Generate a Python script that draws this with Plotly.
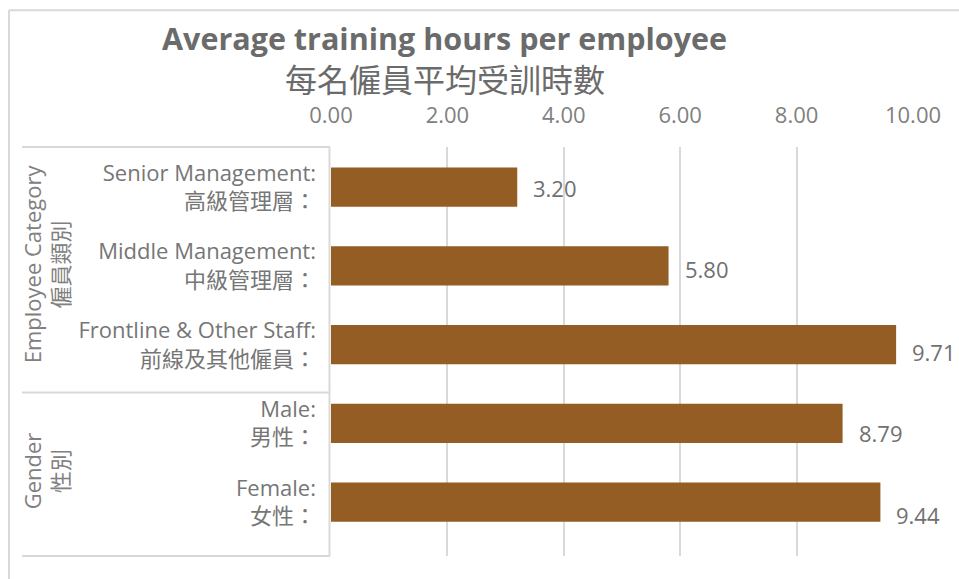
import plotly.graph_objects as go

categories = [
    "Senior Management:<br>高級管理層：",
    "Middle Management:<br>中級管理層：",
    "Frontline & Other Staff:<br>前線及其他僱員：",
    "Male:<br>男性：",
    "Female:<br>女性：",
]
values = [3.20, 5.80, 9.71, 8.79, 9.44]
groups = ["Employee Category<br>僱員類別", "Gender<br>性別"]
tick_vals = [0, 2, 4, 6, 8, 10]
title_en = "Average training hours per employee"
title_zh = "每名僱員平均受訓時數"

# style-only: small vertical drift of value labels as in the reference
label_yshift = [-1, -3, -7, -10, -13]

FONT = "Open Sans, Noto Sans CJK TC, sans-serif"
BAR = "#935D23"
GRID = "#D9D9D9"

W, H = 959, 579
L, R = 331, 46
T, B = 146.7, H - 555.7
pw = W - L - R
ph = H - T - B

def px(x):
    return (x - L) / pw

def py(y):
    return 1 + (T - y) / ph

# category axis layout (pixels of first category centre and pitch)
C0, PITCH = 186.8, 78.75
y_range = [(H - B - C0) / PITCH, (T - C0) / PITCH]

fig = go.Figure()
fig.add_trace(go.Bar(
    x=values, y=categories, orientation="h",
    marker=dict(color=BAR, line=dict(width=0)),
    width=0.5, hoverinfo="skip",
))

annotations = []
for v, c, ys in zip(values, categories, label_yshift):
    annotations.append(dict(
        x=v, y=c, xref="x", yref="y", text=f"{v:.2f}", showarrow=False,
        xanchor="left", yanchor="middle", xshift=14, yshift=ys,
        font=dict(family=FONT, size=22, color="#707070"),
    ))

group_centres = [264, 471]
for g, gy in zip(groups, group_centres):
    annotations.append(dict(
        x=px(46), xref="paper", y=py(gy), yref="paper", text=g, showarrow=False,
        textangle=-90, xanchor="center", yanchor="middle",
        font=dict(family=FONT, size=22, color="#808080"),
    ))

# title
annotations.append(dict(
    x=px(444.5), xref="paper", y=py(38), yref="paper", text=f"<b>{title_en}</b>",
    showarrow=False, xanchor="center", yanchor="middle",
    font=dict(family=FONT, size=30.5, color="#6B6B6B"),
))
annotations.append(dict(
    x=px(445), xref="paper", y=py(79), yref="paper", text=title_zh,
    showarrow=False, xanchor="center", yanchor="middle",
    font=dict(family=FONT, size=32, color="#6B6B6B"),
))

shapes = []
for b in [146.7, 392.3, 555.7]:
    shapes.append(dict(type="line", xref="paper", yref="paper", x0=px(22), x1=px(330),
                       y0=py(b), y1=py(b), line=dict(color=GRID, width=2)))
shapes.append(dict(type="line", xref="paper", yref="paper", x0=px(329.5), x1=px(329.5),
                   y0=py(146.7), y1=py(555.7), line=dict(color=GRID, width=2)))
# outer chart border (top & left visible)
shapes.append(dict(type="line", xref="paper", yref="paper", x0=px(9), x1=px(960),
                   y0=py(10), y1=py(10), line=dict(color=GRID, width=2)))
shapes.append(dict(type="line", xref="paper", yref="paper", x0=px(9), x1=px(9),
                   y0=py(10), y1=py(580), line=dict(color=GRID, width=2)))

fig.update_layout(
    width=W, height=H,
    margin=dict(l=L, r=R, t=T, b=B, pad=0),
    paper_bgcolor="white", plot_bgcolor="white",
    showlegend=False,
    xaxis=dict(
        range=[0, 10], side="top", tickvals=tick_vals, tickformat=".2f",
        showgrid=True, gridcolor=GRID, gridwidth=1.5, zeroline=False,
        showline=False, ticks="", ticklabelstandoff=19,
        tickfont=dict(family=FONT, size=22, color="#808080"),
        fixedrange=True,
    ),
    yaxis=dict(
        categoryorder="array", categoryarray=categories, range=y_range,
        showgrid=False, zeroline=False, showline=False, ticks="",
        ticklabelstandoff=14,
        tickfont=dict(family=FONT, size=22, color="#767676"),
        fixedrange=True,
    ),
    annotations=annotations,
    shapes=shapes,
    bargap=0.5,
)

fig.write_html(
    "out.html",
    config={"displayModeBar": False},
    post_script="document.body.style.margin='0';document.body.style.overflow='hidden';",
)
